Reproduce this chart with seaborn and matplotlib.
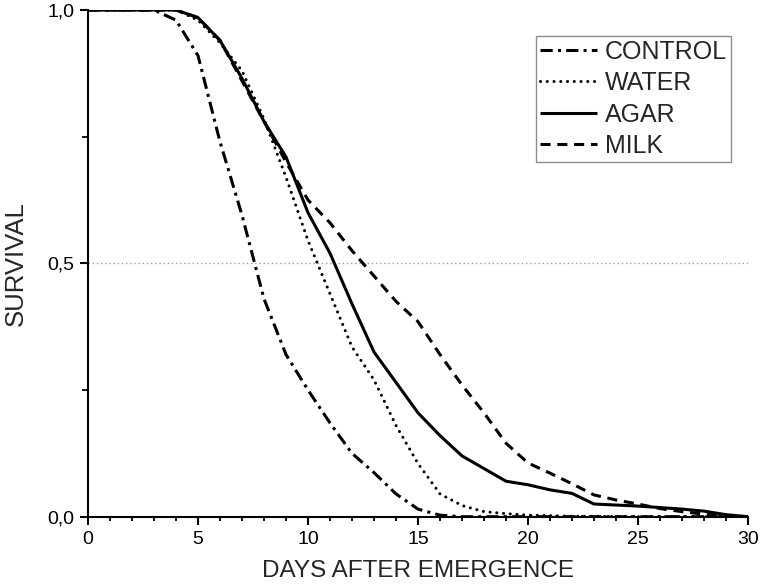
import numpy as np
import pandas as pd
import matplotlib
matplotlib.use("Agg")
import matplotlib.pyplot as plt
from matplotlib.lines import Line2D
from matplotlib.ticker import MultipleLocator, FixedLocator
import seaborn as sns

# ---- data ----
days_control = [0, 3, 4, 5, 6, 7, 8, 9, 10, 11, 12, 13, 14, 15, 16, 17, 30]
surv_control = [1.0, 1.0, 0.98, 0.91, 0.74, 0.595, 0.43, 0.32, 0.25, 0.185, 0.125, 0.087, 0.045, 0.015, 0.003, 0.0, 0.0]

days_water = [0, 4, 5, 6, 7, 8, 9, 10, 11, 12, 13, 14, 15, 16, 17, 18, 19, 20, 22, 25, 30]
surv_water = [1.0, 1.0, 0.98, 0.935, 0.88, 0.785, 0.67, 0.545, 0.44, 0.335, 0.27, 0.18, 0.105, 0.045, 0.022, 0.01, 0.006, 0.003, 0.001, 0.0, 0.0]

days_agar = [0, 4, 5, 6, 7, 8, 9, 10, 11, 12, 13, 14, 15, 16, 17, 18, 19, 20, 21, 22, 23, 24, 25, 26, 27, 28, 29, 30]
surv_agar = [1.0, 1.0, 0.985, 0.94, 0.865, 0.78, 0.71, 0.60, 0.52, 0.42, 0.325, 0.265, 0.205, 0.16, 0.12, 0.095, 0.07, 0.063, 0.053, 0.046, 0.025, 0.023, 0.021, 0.018, 0.015, 0.011, 0.004, 0.0]

days_milk = [0, 4, 5, 6, 7, 8, 9, 10, 11, 12, 13, 14, 15, 16, 17, 18, 19, 20, 21, 22, 23, 24, 25, 26, 27, 28, 29, 30]
surv_milk = [1.0, 1.0, 0.985, 0.94, 0.86, 0.78, 0.70, 0.625, 0.58, 0.525, 0.475, 0.425, 0.385, 0.32, 0.26, 0.205, 0.145, 0.106, 0.086, 0.065, 0.043, 0.033, 0.025, 0.016, 0.010, 0.005, 0.002, 0.0]

series_names = ["CONTROL", "WATER", "AGAR", "MILK"]
x_ticks = [0, 5, 10, 15, 20, 25, 30]
y_ticks = [0.0, 0.5, 1.0]
y_tick_labels = ["0,0", "0,5", "1,0"]

# ---- style ----
sns.set_style("ticks")
plt.rcParams["font.family"] = ["Liberation Sans", "DejaVu Sans"]

fig = plt.figure(figsize=(7.6, 5.85), dpi=100)
ax = fig.add_axes([88 / 760, 1 - 516.7 / 585, 660 / 760, 506.7 / 585])

styles = {
    "CONTROL": dict(linestyle=(0, (4.0, 1.7, 1.0, 1.7)), dash_capstyle="butt"),
    "WATER": dict(linestyle=(0, (0.01, 2.2)), dash_capstyle="round"),
    "AGAR": dict(linestyle="-", solid_capstyle="butt"),
    "MILK": dict(linestyle=(0, (3.3, 2.2)), dash_capstyle="butt"),
}
data = {
    "CONTROL": (days_control, surv_control),
    "WATER": (days_water, surv_water),
    "AGAR": (days_agar, surv_agar),
    "MILK": (days_milk, surv_milk),
}

# reference line at 0.5
ax.axhline(0.5, color="#9a9a9a", lw=1.0, linestyle=(0, (1, 2)), zorder=1)

for name in ["MILK", "WATER", "CONTROL", "AGAR"]:
    xs, ys = data[name]
    df = pd.DataFrame({"day": xs, "survival": ys})
    sns.lineplot(data=df, x="day", y="survival", ax=ax, color="black",
                 lw=2.2, errorbar=None, **styles[name])

handles = [Line2D([], [], color="black", lw=2.2, **styles[n]) for n in series_names]

ax.set_xlim(0, 30)
ax.set_ylim(0, 1)
ax.xaxis.set_major_locator(FixedLocator(x_ticks))
ax.xaxis.set_minor_locator(MultipleLocator(1))
ax.yaxis.set_major_locator(FixedLocator(y_ticks))
ax.set_yticklabels(y_tick_labels)
ax.yaxis.set_minor_locator(FixedLocator([0.25, 0.75]))

for s in ["top", "right"]:
    ax.spines[s].set_visible(False)
for s in ["left", "bottom"]:
    ax.spines[s].set_linewidth(1.5)
    ax.spines[s].set_color("black")

ax.tick_params(axis="both", which="major", direction="out", length=6, width=1.5,
               labelsize=14, pad=4, color="black", labelcolor="black")
ax.tick_params(axis="x", which="minor", direction="out", length=3, width=1.3, color="black")
ax.tick_params(axis="y", which="minor", direction="out", length=4, width=1.3, color="black")

ax.set_xlabel("DAYS AFTER EMERGENCE", fontsize=17.5, labelpad=9)
ax.set_ylabel("SURVIVAL", fontsize=18.5, labelpad=14)

leg = ax.legend(handles, series_names, loc="upper left",
                bbox_to_anchor=(0.679, 0.949), fontsize=18, frameon=True,
                fancybox=False, edgecolor="#707070", handlelength=2.3,
                handletextpad=0.3, labelspacing=0.3, borderpad=0.15,
                borderaxespad=0)
leg.get_frame().set_linewidth(1.0)

ax.set_facecolor("white")
fig.patch.set_facecolor("white")
fig.savefig("out.png", dpi=100)
